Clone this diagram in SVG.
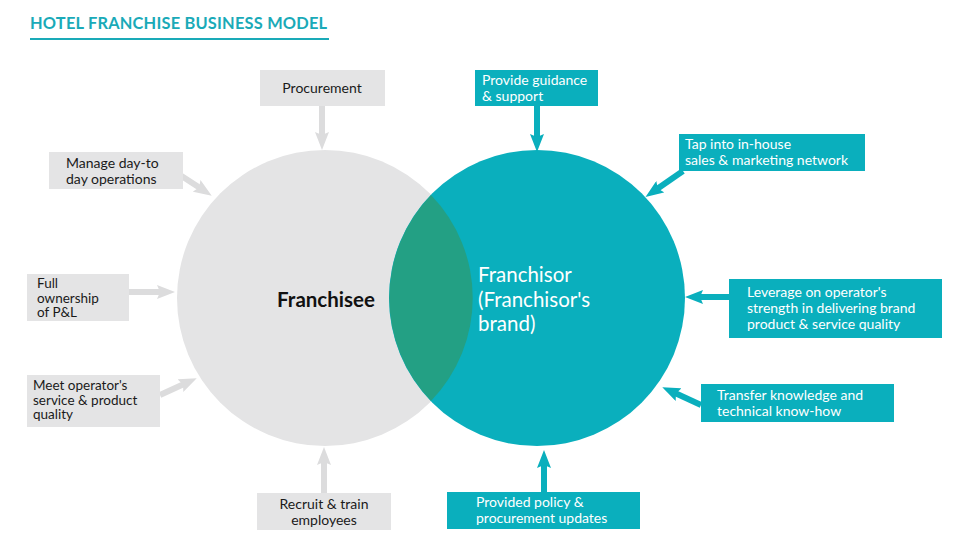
<svg xmlns="http://www.w3.org/2000/svg" width="977" height="558" viewBox="0 0 977 558">
<style>
text{font-family:Lato,"Open Sans","Liberation Sans",sans-serif;}
.title{font-size:16.4px;font-weight:bold;fill:#1aaab8;letter-spacing:0.2px}
.gbox{fill:#e4e4e5}
.tbox{fill:#0aafbd}
.gt{font-size:14px;fill:#1a1a1a}
.gs{font-size:13.5px;fill:#1a1a1a}
.tt{font-size:14px;fill:#ffffff}
.ga{stroke:#dcdcdd;stroke-width:6;fill:none}
.ta{stroke:#0aafbd;stroke-width:6;fill:none}
.big{font-size:20.5px;fill:#fff}
</style>
<defs>
<marker id="hg" markerUnits="userSpaceOnUse" viewBox="0 0 18 14" refX="4" refY="7" markerWidth="18" markerHeight="14" orient="auto">
<path d="M0,0 L18,7 L0,14 L3,7 Z" fill="#dcdcdd"/>
</marker>
<marker id="ht" markerUnits="userSpaceOnUse" viewBox="0 0 18 14" refX="4" refY="7" markerWidth="18" markerHeight="14" orient="auto">
<path d="M0,0 L18,7 L0,14 L3,7 Z" fill="#0aafbd"/>
</marker>
</defs>
<rect width="977" height="558" fill="#ffffff"/>
<g id="title">
<text class="title" x="30" y="29">HOTEL FRANCHISE BUSINESS MODEL</text>
<line x1="30" y1="39" x2="329" y2="39" stroke="#1aaab8" stroke-width="2"/>
</g>
<g id="franchisee">
<circle cx="325" cy="298" r="148" fill="#e4e4e5"/>
</g>
<g id="franchisor">
<circle cx="537" cy="298" r="148" fill="#0aafbd"/>
</g>
<g id="overlap">
<path d="M431,195 A148,148 0 0,1 431,401 A148,148 0 0,1 431,195 Z" fill="#23a084"/>
</g>
<g id="circle-labels">
<text x="326" y="307" text-anchor="middle" style="font-size:20.5px;font-weight:bold;fill:#111">Franchisee</text>
<text class="big" x="478" y="282">Franchisor</text>
<text class="big" x="478" y="307">(Franchisor's</text>
<text class="big" x="478" y="331">brand)</text>
</g>
<g id="connectors">
<line class="ga" x1="322" y1="106" x2="322" y2="136" marker-end="url(#hg)"/>
<line class="ga" x1="180" y1="175" x2="200" y2="188" marker-end="url(#hg)"/>
<line class="ga" x1="129" y1="292" x2="161" y2="292" marker-end="url(#hg)"/>
<line class="ga" x1="160" y1="395" x2="184" y2="384" marker-end="url(#hg)"/>
<line class="ga" x1="324" y1="493" x2="324" y2="461" marker-end="url(#hg)"/>
<line class="ta" x1="537" y1="106" x2="537" y2="138" marker-end="url(#ht)"/>
<line class="ta" x1="683" y1="171" x2="657" y2="189" marker-end="url(#ht)"/>
<line class="ta" x1="729" y1="297" x2="699" y2="297" marker-end="url(#ht)"/>
<line class="ta" x1="701" y1="405" x2="675" y2="393" marker-end="url(#ht)"/>
<line class="ta" x1="544" y1="492" x2="544" y2="464" marker-end="url(#ht)"/>
</g>
<g id="procurement">
<rect class="gbox" x="260" y="70" width="125" height="36"/>
<text class="gt" x="322" y="93" text-anchor="middle">Procurement</text>
</g>
<g id="manage-ops">
<rect class="gbox" x="49" y="152" width="134" height="37"/>
<text class="gt" x="66" y="168">Manage day-to</text>
<text class="gt" x="66" y="184">day operations</text>
</g>
<g id="full-ownership">
<rect class="gbox" x="27" y="274" width="102" height="47"/>
<text class="gs" x="37" y="288">Full</text>
<text class="gs" x="37" y="302.5">ownership</text>
<text class="gs" x="37" y="317">of P&amp;L</text>
</g>
<g id="meet-quality">
<rect class="gbox" x="27" y="375" width="133" height="52"/>
<text class="gs" x="33" y="390">Meet operator's</text>
<text class="gs" x="33" y="404.5">service &amp; product</text>
<text class="gs" x="33" y="419">quality</text>
</g>
<g id="recruit">
<rect class="gbox" x="257" y="493" width="134" height="37"/>
<text class="gt" x="324" y="509" text-anchor="middle">Recruit &amp; train</text>
<text class="gt" x="324" y="525" text-anchor="middle">employees</text>
</g>
<g id="guidance">
<rect class="tbox" x="475" y="70" width="123" height="36"/>
<text class="tt" x="482" y="85">Provide guidance</text>
<text class="tt" x="482" y="101">&amp; support</text>
</g>
<g id="tap-network">
<rect class="tbox" x="679" y="134" width="186" height="37"/>
<text class="tt" x="685" y="149">Tap into in-house</text>
<text class="tt" x="685" y="165">sales &amp; marketing network</text>
</g>
<g id="leverage">
<rect class="tbox" x="729" y="279" width="213" height="59"/>
<text class="tt" x="747" y="297">Leverage on operator's</text>
<text class="tt" x="747" y="313">strength in delivering brand</text>
<text class="tt" x="747" y="329">product &amp; service quality</text>
</g>
<g id="transfer">
<rect class="tbox" x="701" y="384" width="193" height="38"/>
<text class="tt" x="717" y="400">Transfer knowledge and</text>
<text class="tt" x="717" y="416">technical know-how</text>
</g>
<g id="policy">
<rect class="tbox" x="447" y="492" width="193" height="37"/>
<text class="tt" x="476" y="507">Provided policy &amp;</text>
<text class="tt" x="476" y="523">procurement updates</text>
</g>
</svg>
